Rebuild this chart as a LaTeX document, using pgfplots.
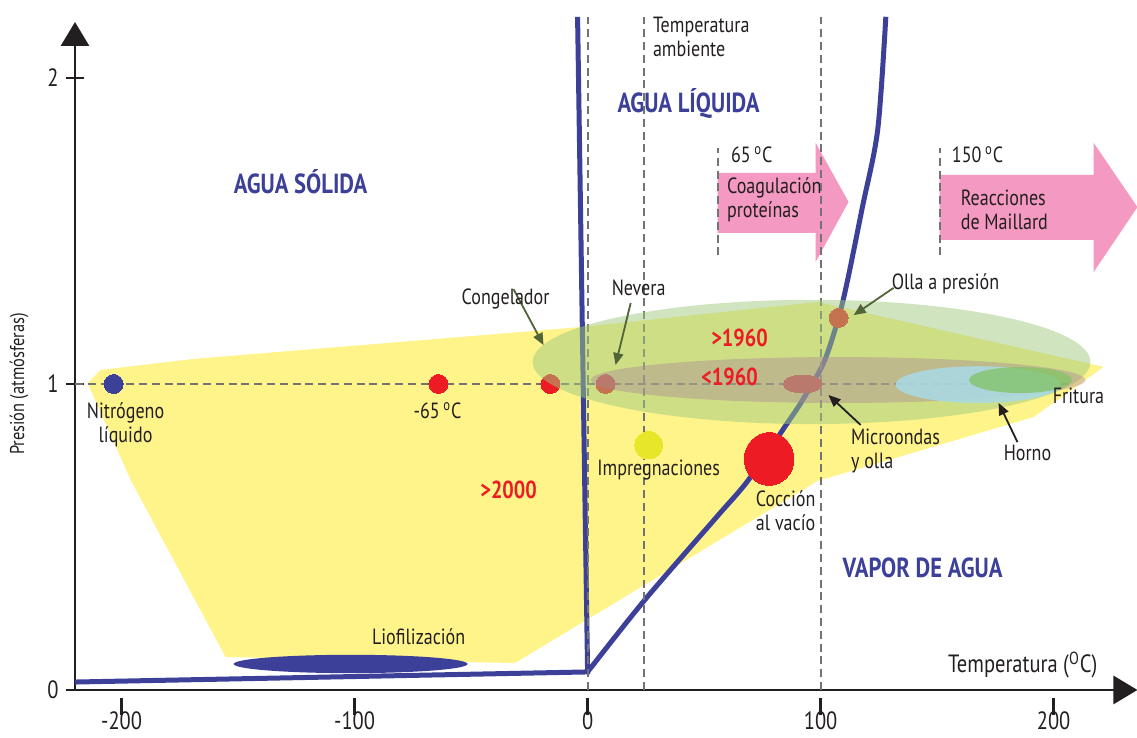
\documentclass[border=0pt]{standalone}
\usepackage{pgfplots}
\pgfplotsset{compat=1.18}
\usepackage{fontspec}
\setmainfont{PT Sans}[FakeStretch=0.82]
\usetikzlibrary{arrows.meta}
\definecolor{dblue}{RGB}{60,64,153}
\definecolor{yel}{RGB}{255,244,138}
\definecolor{grn}{RGB}{159,201,127}
\definecolor{mauve}{RGB}{170,132,152}
\definecolor{hblue}{RGB}{168,218,230}
\definecolor{fgreen}{RGB}{130,195,100}
\definecolor{pinkarr}{RGB}{244,153,193}
\definecolor{red1}{RGB}{237,28,36}
\definecolor{yeldot}{RGB}{232,230,40}
\definecolor{txt}{RGB}{35,31,32}
\definecolor{dgray}{RGB}{115,115,115}
\definecolor{olivearr}{RGB}{80,100,55}
\begin{document}
\begin{tikzpicture}[
  lab/.style={font=\fontsize{11}{12}\selectfont, text=txt, align=center, inner sep=0pt},
  big/.style={font=\bfseries\fontsize{13.8}{15}\selectfont, text=dblue, inner sep=0pt},
  redl/.style={font=\bfseries\fontsize{12.3}{14}\selectfont, text=red1, inner sep=0pt},
  refdash/.style={dgray, line width=1pt, dash pattern=on 4pt off 2.4pt},
  ann/.style={line width=0.9pt, -{Triangle[length=6pt,width=5pt]}}
]
\begin{axis}[
  x=1.165pt, y=153pt,
  xmin=-220, xmax=236, ymin=0, ymax=2.183,
  axis lines=left,
  axis line style={line width=1.4pt, txt, -{Triangle[length=12pt,width=14pt]}},
  clip=false,
  clip marker paths=true,
  xtick={-200,-100,0,100,200},
  ytick={0,1,2},
  major tick length=8.5pt,
  tick style={line width=1.3pt, txt},
  xtick style={yshift=-8.5pt},
  tick label style={font=\fontsize{12.5}{14}\selectfont, text=txt},
  xticklabel style={yshift=-3pt},
  yticklabel style={xshift=-0.5pt},
  /pgf/number format/assume math mode=true,
  xlabel={Temperatura (\textsuperscript{O}C)},
  ylabel={Presión (atmósferas)},
  every axis x label/.style={at={(rel axis cs:0.892,0.0376)}, anchor=center, font=\fontsize{12.5}{14}\selectfont, text=txt},
  every axis y label/.style={at={(rel axis cs:-0.0526,0.458)}, rotate=90, anchor=center, font=\fontsize{10}{12}\selectfont, text=txt},
]
\coordinate (bl) at (rel axis cs:0,0);
% yellow region
\addplot[fill=yel, draw=none] coordinates {
 (-214.6,1.003) (-209.0,1.046) (-169.1,1.082) (-3.0,1.186) (98.7,1.268)
 (221.5,1.056) (191.4,0.892) (98.7,0.683) (-31.3,0.088) (-155.4,0.108) (-196.1,0.686)} -- cycle;
% pink arrows
\addplot[fill=pinkarr, draw=none] coordinates {
 (55.8,1.494) (97.9,1.494) (97.9,1.399) (112,1.595) (97.9,1.788) (97.9,1.690) (55.8,1.690)} -- cycle;
\addplot[fill=pinkarr, draw=none] coordinates {
 (151.1,1.471) (217.2,1.471) (217.2,1.366) (236,1.578) (217.2,1.788) (217.2,1.683) (151.1,1.683)} -- cycle;
% phase lines
\addplot[dblue, line width=2.5pt, line join=miter] coordinates {(-220,0.026) (0,0.059) (-4.3,2.2)};
\addplot[dblue, line width=2.5pt, smooth, tension=0.5] coordinates {
 (0,0.059) (24.5,0.294) (55,0.562) (69,0.686) (85.8,0.873) (92.3,0.948) (101.3,1.069)
 (107.7,1.216) (111.6,1.34) (118,1.58) (124.5,1.83) (128,2.2)};
% dashed reference lines
\addplot[refdash] coordinates {(0,0) (0,2.2)};
\addplot[refdash] coordinates {(24,0) (24,2.2)};
\addplot[refdash] coordinates {(100,0) (100,2.2)};
\addplot[refdash] coordinates {(55.8,1.42) (55.8,1.77)};
\addplot[refdash] coordinates {(151.1,1.42) (151.1,1.77)};
\addplot[refdash] coordinates {(-220,1) (206,1)};
% points
\addplot[only marks, mark=*, color=dblue, line width=0pt, mark size=4.75pt] coordinates {(-203.4,1)};
\addplot[only marks, mark=*, color=red1, line width=0pt, mark size=4.75pt] coordinates {(-64,1) (-16,1) (7.7,1) (107.7,1.216)};
\addplot[only marks, mark=*, color=red1, line width=0pt, mark size=9.75pt, mark options={yscale=0.46}] coordinates {(92.3,1.0)};
\addplot[only marks, mark=*, color=red1, line width=0pt, mark size=13.2pt, mark options={xscale=0.94}] coordinates {(77.9,0.755)};
\addplot[only marks, mark=*, color=yeldot, line width=0pt, mark size=6.9pt] coordinates {(26.2,0.80)};
% ellipses
\fill[dblue] (axis cs:-101.7,0.085) ellipse [x radius=50.2, y radius=0.03];
\fill[grn, opacity=0.5] (axis cs:96.1,1.072) ellipse [x radius=119.7, y radius=0.203];
\fill[mauve, opacity=0.4] (axis cs:107.5,1.013) ellipse [x radius=106.2, y radius=0.075];
\fill[hblue, opacity=0.85] (axis cs:167.6,0.998) ellipse [x radius=35.4, y radius=0.06];
\fill[fgreen, opacity=0.75] (axis cs:185.8,1.013) ellipse [x radius=22.1, y radius=0.0425];
% annotation arrows
\draw[ann, olivearr] (axis cs:-31.8,1.31) -- (axis cs:-18.9,1.127);
\draw[ann, olivearr] (axis cs:18.5,1.265) -- (axis cs:12,1.062);
\draw[ann, olivearr] (axis cs:131.3,1.314) -- (axis cs:114.2,1.225);
\draw[ann, txt] (axis cs:117.2,0.866) -- (axis cs:103.4,0.964);
\draw[ann, txt] (axis cs:184.5,0.810) -- (axis cs:176.4,0.938);
% texts
\node[big] at (axis cs:-123.2,1.66) {AGUA SÓLIDA};
\node[big] at (axis cs:43.3,1.918) {AGUA LÍQUIDA};
\node[big] at (axis cs:143.8,0.399) {VAPOR DE AGUA};
\node[lab, anchor=west, align=left] at (axis cs:27.9,2.134) {Temperatura\\ambiente};
\node[lab, anchor=west] at (axis cs:61.4,1.748) {65\,\textsuperscript{o}C};
\node[lab, anchor=west] at (axis cs:156.2,1.748) {150\,\textsuperscript{o}C};
\node[lab, anchor=west, align=left] at (axis cs:59.7,1.601) {Coagulación\\proteínas};
\node[lab, anchor=west, align=left] at (axis cs:160,1.569) {Reacciones\\de Maillard};
\node[lab] at (axis cs:-35.2,1.278) {Congelador};
\node[lab] at (axis cs:21.9,1.314) {Nevera};
\node[lab] at (axis cs:153.6,1.327) {Olla a presión};
\node[redl] at (axis cs:65.2,1.150) {>1960};
\node[redl] at (axis cs:60.9,1.023) {<1960};
\node[redl] at (axis cs:-33.9,0.654) {>2000};
\node[lab] at (axis cs:-198.3,0.866) {Nitrógeno\\líquido};
\node[lab] at (axis cs:-64.4,0.912) {-65\,\textsuperscript{o}C};
\node[lab] at (axis cs:30.5,0.719) {Impregnaciones};
\node[lab] at (axis cs:85,0.585) {Cocción\\al vacío};
\node[lab, anchor=west, align=left] at (axis cs:112.9,0.781) {Microondas\\y olla};
\node[lab] at (axis cs:188.8,0.775) {Horno};
\node[lab] at (axis cs:210.7,0.961) {Fritura};
\node[lab] at (axis cs:-72.5,0.173) {Liofilización};
\end{axis}
\pgfresetboundingbox
\path[use as bounding box] (bl) ++(-37.5pt,-24pt) rectangle ++(568.5pt,369pt);
\end{tikzpicture}
\end{document}
